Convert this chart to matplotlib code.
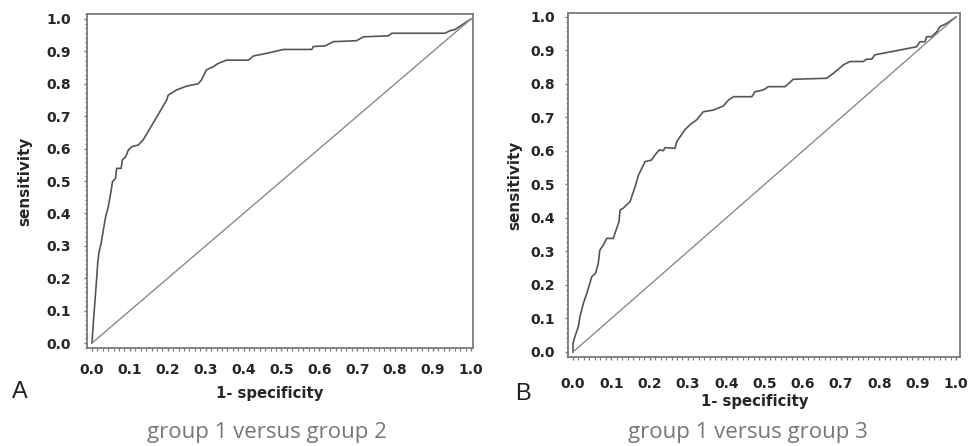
import numpy as np
import matplotlib
matplotlib.use("Agg")
import matplotlib.pyplot as plt
from matplotlib.ticker import AutoMinorLocator

# ROC curve A: group 1 versus group 2
fpr_a = [0.0, 0.004, 0.012, 0.015, 0.018, 0.024, 0.030, 0.036, 0.043, 0.050,
         0.054, 0.062, 0.065, 0.077, 0.080, 0.089, 0.096, 0.105, 0.122, 0.135,
         0.166, 0.171, 0.197, 0.201, 0.223, 0.250, 0.280, 0.289, 0.302, 0.320,
         0.333, 0.355, 0.413, 0.426, 0.461, 0.505, 0.580, 0.584, 0.615, 0.637,
         0.698, 0.716, 0.782, 0.791, 0.931, 0.945, 0.957, 1.0]
tpr_a = [0.0, 0.071, 0.194, 0.246, 0.277, 0.308, 0.349, 0.390, 0.421, 0.467,
         0.498, 0.508, 0.539, 0.539, 0.565, 0.575, 0.596, 0.606, 0.611, 0.627,
         0.688, 0.698, 0.750, 0.765, 0.781, 0.793, 0.800, 0.812, 0.843, 0.853,
         0.863, 0.873, 0.873, 0.886, 0.894, 0.906, 0.906, 0.915, 0.917, 0.930,
         0.933, 0.945, 0.948, 0.956, 0.956, 0.964, 0.967, 1.0]

# ROC curve B: group 1 versus group 3
fpr_b = [0.0, 0.0, 0.005, 0.014, 0.018, 0.027, 0.036, 0.049, 0.059, 0.066,
         0.070, 0.079, 0.088, 0.105, 0.114, 0.120, 0.123, 0.131, 0.140, 0.149,
         0.162, 0.171, 0.188, 0.205, 0.214, 0.225, 0.236, 0.240, 0.266, 0.271,
         0.292, 0.305, 0.323, 0.340, 0.366, 0.392, 0.406, 0.419, 0.467, 0.475,
         0.497, 0.510, 0.554, 0.575, 0.662, 0.680, 0.706, 0.723, 0.758, 0.766,
         0.780, 0.788, 0.897, 0.906, 0.919, 0.923, 0.936, 0.950, 0.958, 0.976, 1.0]
tpr_b = [0.0, 0.026, 0.046, 0.076, 0.105, 0.145, 0.175, 0.225, 0.235, 0.265,
         0.304, 0.319, 0.339, 0.339, 0.369, 0.389, 0.424, 0.429, 0.439, 0.449,
         0.493, 0.528, 0.568, 0.573, 0.588, 0.603, 0.601, 0.610, 0.608, 0.628,
         0.663, 0.678, 0.693, 0.717, 0.722, 0.734, 0.752, 0.762, 0.762, 0.777,
         0.782, 0.792, 0.792, 0.814, 0.817, 0.832, 0.857, 0.867, 0.867, 0.874,
         0.874, 0.887, 0.911, 0.926, 0.926, 0.941, 0.941, 0.956, 0.971, 0.981, 1.0]

tick_vals = [0.0, 0.1, 0.2, 0.3, 0.4, 0.5, 0.6, 0.7, 0.8, 0.9, 1.0]
tick_labels = ["0.0", "0.1", "0.2", "0.3", "0.4", "0.5", "0.6", "0.7", "0.8", "0.9", "1.0"]

panels = [
    dict(fpr=fpr_a, tpr=tpr_a, letter="A", caption="group 1 versus group 2",
         rect=[0.0897, 0.2197, 0.3979, 0.7489], xlim=(-0.0132, 1.0053), ylim=(-0.0154, 1.0154),
         letter_xy=(0.012, 0.108), caption_xy=(0.275, 0.018),
         xpad=8, ypad=9, xlab_xy=(0.474, -0.115), ylab_xy=(-0.142, 0.5)),
    dict(fpr=fpr_b, tpr=tpr_b, letter="B", caption="group 1 versus group 3",
         rect=[0.5856, 0.1996, 0.4041, 0.7713], xlim=(-0.013, 1.0104), ylim=(-0.0149, 1.0119),
         letter_xy=(0.531, 0.103), caption_xy=(0.771, 0.018),
         xpad=12, ypad=7, xlab_xy=(0.477, -0.108), ylab_xy=(-0.117, 0.5)),
]

fig = plt.figure(figsize=(9.7, 4.46), dpi=100)

for p in panels:
    ax = fig.add_axes(p["rect"])
    ax.plot(p["fpr"], p["tpr"], color="#555555", lw=1.2)
    ax.plot([0, 1], [0, 1], color="#8a8a8a", lw=1.0)
    ax.set_xlim(*p["xlim"])
    ax.set_ylim(*p["ylim"])

    ax.set_xticks(tick_vals)
    ax.set_xticklabels(tick_labels)
    ax.set_yticks(tick_vals)
    ax.set_yticklabels(tick_labels)
    ax.xaxis.set_minor_locator(AutoMinorLocator(7))
    ax.yaxis.set_minor_locator(AutoMinorLocator(7))
    ax.tick_params(which="major", length=2.5, width=1, color="#777777", direction="out")
    ax.tick_params(which="minor", length=1.8, width=0.8, color="#777777", direction="out")
    ax.tick_params(axis="x", which="major", pad=p["xpad"])
    ax.tick_params(axis="y", which="major", pad=p["ypad"])
    for lab in ax.get_xticklabels() + ax.get_yticklabels():
        lab.set_fontfamily("DejaVu Sans")
        lab.set_fontweight("bold")
        lab.set_fontsize(10)
        lab.set_color("#262626")
    for sp in ax.spines.values():
        sp.set_color("#7a7a7a")
        sp.set_linewidth(1.3)

    ax.set_xlabel("1- specificity", fontfamily="DejaVu Sans", fontweight="bold", fontsize=10.7,
                  color="#262626")
    ax.set_ylabel("sensitivity", fontfamily="DejaVu Sans", fontweight="bold", fontsize=11,
                  color="#262626")
    ax.xaxis.set_label_coords(*p["xlab_xy"])
    ax.yaxis.set_label_coords(*p["ylab_xy"])

    fig.text(p["letter_xy"][0], p["letter_xy"][1], p["letter"], fontsize=17,
             fontfamily="Liberation Sans", color="#222222", va="baseline")
    fig.text(p["caption_xy"][0], p["caption_xy"][1], p["caption"], fontsize=16,
             fontfamily="Open Sans", color="#777777", ha="center", va="baseline")

fig.savefig("out.png", dpi=100)
